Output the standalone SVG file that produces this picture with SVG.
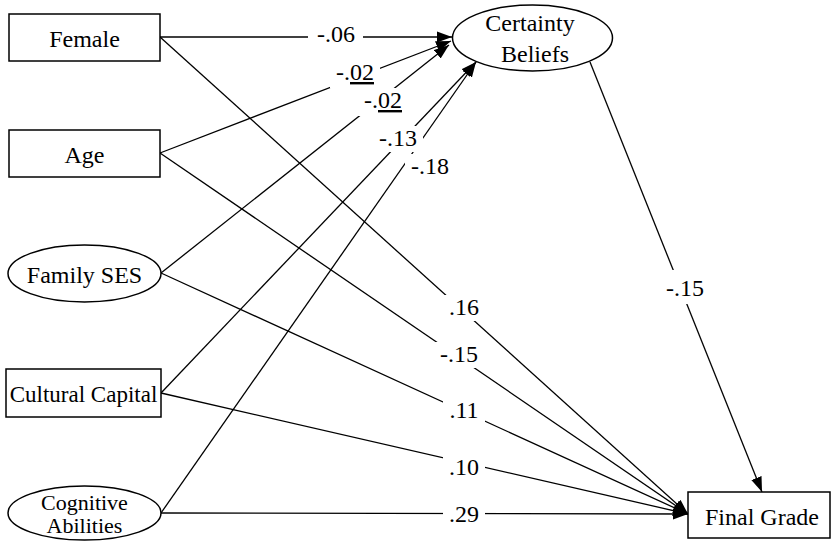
<svg xmlns="http://www.w3.org/2000/svg" width="831" height="541" viewBox="0 0 831 541" font-family="'Liberation Serif', 'Times New Roman', serif" font-size="24">
<style>
text{font-family:'Liberation Serif','Times New Roman',serif;font-size:24px;fill:#000;text-anchor:middle}
.n{fill:#fff;stroke:#000;stroke-width:1.5}
.c{stroke:#000;stroke-width:1.3;fill:none;marker-end:url(#ah)}
.bg{fill:#fff;stroke:none}
</style>
<defs>
<marker id="ah" markerUnits="userSpaceOnUse" markerWidth="16" markerHeight="12" refX="15" refY="5.5" orient="auto" viewBox="0 0 16 11">
<path d="M0,0 L15,5.5 L0,11 z" fill="#000"/>
</marker>
</defs>
<g id="connectors">
<line class="c" x1="160" y1="37" x2="452" y2="37"/>
<line class="c" x1="160" y1="153" x2="451" y2="41"/>
<line class="c" x1="161" y1="273" x2="449" y2="45"/>
<line class="c" x1="161" y1="393" x2="476" y2="62"/>
<line class="c" x1="161" y1="513" x2="476" y2="62"/>
<line class="c" x1="160" y1="37" x2="688" y2="514"/>
<line class="c" x1="160" y1="153" x2="688" y2="514"/>
<line class="c" x1="161" y1="273" x2="688" y2="514"/>
<line class="c" x1="161" y1="393" x2="688" y2="514"/>
<line class="c" x1="161" y1="513" x2="688" y2="514"/>
<line class="c" x1="590" y1="62" x2="762" y2="492"/>
<g id="labels">
<rect class="bg" x="308" y="22" width="55" height="26"/>
<text x="336" y="42">-.06</text>
<rect class="bg" x="330" y="60" width="50" height="28"/>
<text x="355" y="80">-.<tspan text-decoration="underline">02</tspan></text>
<rect class="bg" x="358" y="88" width="50" height="28"/>
<text x="383" y="108">-.<tspan text-decoration="underline">02</tspan></text>
<rect class="bg" x="373" y="126" width="50" height="26"/>
<text x="398" y="146">-.13</text>
<rect class="bg" x="405" y="154" width="50" height="26"/>
<text x="430" y="174">-.18</text>
<rect class="bg" x="443" y="295" width="42" height="26"/>
<text x="464" y="315">.16</text>
<rect class="bg" x="434" y="342" width="50" height="26"/>
<text x="459" y="362">-.15</text>
<rect class="bg" x="443" y="398" width="42" height="26"/>
<text x="464" y="418">.11</text>
<rect class="bg" x="443" y="455" width="42" height="26"/>
<text x="464" y="475">.10</text>
<rect class="bg" x="443" y="502" width="42" height="26"/>
<text x="464" y="522">.29</text>
<rect class="bg" x="662" y="270" width="46" height="34"/>
<text x="685" y="296">-.15</text>
</g>
</g>
<g id="female"><rect class="n" x="9" y="14" width="151" height="47"/><text x="84.5" y="47">Female</text></g>
<g id="age"><rect class="n" x="9" y="130" width="151" height="47"/><text x="84.5" y="163">Age</text></g>
<g id="family-ses"><ellipse class="n" cx="84.5" cy="273.5" rx="76.5" ry="28.5"/><text x="84.5" y="283">Family SES</text></g>
<g id="cultural-capital"><rect class="n" x="6" y="369" width="155" height="48"/><text x="83.5" y="402" style="font-size:23px">Cultural Capital</text></g>
<g id="cognitive-abilities"><ellipse class="n" cx="84.5" cy="513" rx="76.5" ry="27"/><text x="84.5" y="510" style="font-size:22px">Cognitive</text><text x="84.5" y="533" style="font-size:22px">Abilities</text></g>
<g id="certainty-beliefs"><ellipse class="n" cx="532.5" cy="38" rx="80" ry="33"/><text x="530" y="31">Certainty</text><text x="535" y="62">Beliefs</text></g>
<g id="final-grade"><rect class="n" x="688" y="492" width="142" height="46"/><text x="762" y="525">Final Grade</text></g>
</svg>
